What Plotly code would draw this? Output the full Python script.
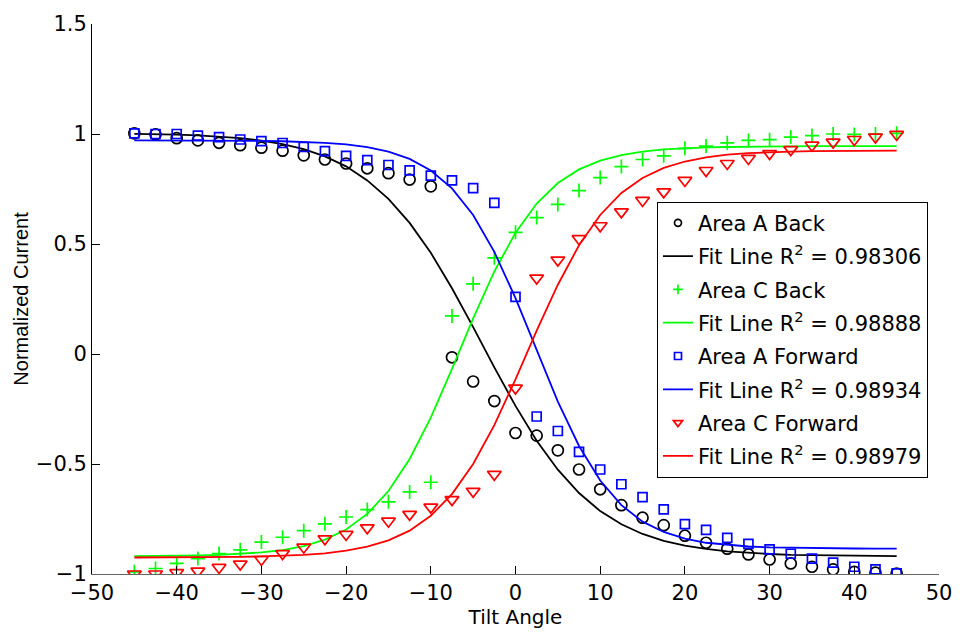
import plotly.graph_objects as go

# Tilt angles (degrees)
tilt = [-45, -42.5, -40, -37.5, -35, -32.5, -30, -27.5, -25, -22.5, -20, -17.5, -15,
        -12.5, -10, -7.5, -5, -2.5, 0, 2.5, 5, 7.5, 10, 12.5, 15, 17.5, 20, 22.5, 25,
        27.5, 30, 32.5, 35, 37.5, 40, 42.5, 45]

# Measured normalized current
area_a_back = [1.003, 0.998, 0.981, 0.971, 0.960, 0.949, 0.938, 0.924, 0.903, 0.884,
               0.866, 0.844, 0.822, 0.793, 0.762, -0.015, -0.125, -0.214, -0.359, -0.371,
               -0.438, -0.525, -0.615, -0.687, -0.744, -0.778, -0.826, -0.858, -0.885,
               -0.911, -0.934, -0.952, -0.967, -0.979, -0.990, -0.994, -0.998]
area_c_back = [-0.99, -0.975, -0.952, -0.930, -0.907, -0.890, -0.855, -0.833, -0.803,
               -0.772, -0.741, -0.707, -0.672, -0.627, -0.583, 0.173, 0.319, 0.437, 0.553,
               0.620, 0.680, 0.743, 0.802, 0.852, 0.884, 0.901, 0.935, 0.945, 0.960, 0.971,
               0.974, 0.986, 0.993, 1.0, 0.998, 1.0, 1.003]
area_a_forward = [1.003, 1.0, 1.0, 0.993, 0.986, 0.975, 0.968, 0.959, 0.941, 0.922, 0.901,
                  0.881, 0.859, 0.835, 0.811, 0.789, 0.754, 0.687, 0.260, -0.284, -0.350,
                  -0.445, -0.525, -0.592, -0.651, -0.706, -0.773, -0.799, -0.836, -0.863,
                  -0.888, -0.908, -0.930, -0.948, -0.967, -0.979, -0.997]
area_c_forward = [-1.0, -1.0, -0.994, -0.987, -0.970, -0.955, -0.934, -0.907, -0.878,
                  -0.840, -0.820, -0.790, -0.760, -0.729, -0.696, -0.662, -0.624, -0.547,
                  -0.155, 0.345, 0.427, 0.524, 0.583, 0.646, 0.698, 0.737, 0.789, 0.834,
                  0.866, 0.889, 0.911, 0.929, 0.949, 0.963, 0.975, 0.986, 0.998]

# Sigmoid fit values evaluated at each tilt angle
fit_a_back = [1.001, 1.0, 0.997, 0.994, 0.988, 0.981, 0.970, 0.954, 0.931, 0.898, 0.853,
              0.789, 0.705, 0.596, 0.460, 0.299, 0.122, -0.061, -0.236, -0.394, -0.526,
              -0.632, -0.714, -0.774, -0.818, -0.849, -0.871, -0.886, -0.897, -0.904,
              -0.909, -0.913, -0.915, -0.917, -0.918, -0.918, -0.919]
fit_c_back = [-0.919, -0.919, -0.918, -0.916, -0.913, -0.909, -0.902, -0.891, -0.873,
              -0.844, -0.798, -0.727, -0.623, -0.477, -0.289, -0.068, 0.162, 0.375, 0.551,
              0.684, 0.777, 0.839, 0.879, 0.904, 0.920, 0.930, 0.936, 0.939, 0.941, 0.943,
              0.944, 0.944, 0.945, 0.945, 0.945, 0.945, 0.945]
fit_a_forward = [0.971, 0.971, 0.971, 0.970, 0.970, 0.970, 0.969, 0.967, 0.964, 0.960,
                 0.953, 0.940, 0.920, 0.887, 0.834, 0.753, 0.632, 0.464, 0.254, 0.017,
                 -0.216, -0.418, -0.575, -0.687, -0.762, -0.809, -0.839, -0.858, -0.868,
                 -0.875, -0.879, -0.881, -0.883, -0.884, -0.884, -0.885, -0.885]
fit_c_forward = [-0.925, -0.925, -0.924, -0.924, -0.923, -0.922, -0.920, -0.918, -0.913,
                 -0.906, -0.894, -0.876, -0.847, -0.803, -0.735, -0.637, -0.500, -0.323,
                 -0.115, 0.106, 0.315, 0.494, 0.632, 0.732, 0.800, 0.846, 0.875, 0.894,
                 0.906, 0.913, 0.918, 0.920, 0.922, 0.923, 0.924, 0.924, 0.924]

r2 = ["0.98306", "0.98888", "0.98934", "0.98979"]

series = [
    ("Area A Back", area_a_back, fit_a_back, "#000000", "circle-open", 11, 7),
    ("Area C Back", area_c_back, fit_c_back, "#00ff00", "cross-thin-open", 10, 7),
    ("Area A Forward", area_a_forward, fit_a_forward, "#0000ff", "square-open", 9, 7),
    ("Area C Forward", area_c_forward, fit_c_forward, "#ff0000", "triangle-down-open", 12, 8),
]

fig = go.Figure()
for i, ((name, meas, fit, color, symbol, size, lsize), rr) in enumerate(zip(series, r2)):
    # measured points on the axes
    fig.add_trace(go.Scatter(
        x=tilt, y=meas, mode="markers", name=name, showlegend=False,
        marker=dict(symbol=symbol, size=size, color=color,
                    line=dict(color=color, width=1.7)),
    ))
    # smaller marker for the legend entry
    fig.add_trace(go.Scatter(
        x=[None], y=[None], mode="markers", name=name, legendgroup=f"m{i}",
        marker=dict(symbol=symbol, size=lsize, color=color,
                    line=dict(color=color, width=1.7)),
    ))
    fig.add_trace(go.Scatter(
        x=tilt, y=fit, mode="lines", name=f"Fit Line R<sup>2</sup> = {rr}",
        legendgroup=f"f{i}",
        line=dict(color=color, width=1.8),
    ))

wide_font = "DejaVu Sans, Verdana, sans-serif"
narrow_font = "Liberation Sans, Arial, Helvetica, sans-serif"

fig.update_layout(
    width=964, height=633,
    margin=dict(l=92, r=20, t=15, b=59),
    paper_bgcolor="white", plot_bgcolor="white",
    font=dict(family=wide_font, size=21, color="black"),
    showlegend=True,
    legend=dict(
        x=0.987, xanchor="right", y=0.677, yanchor="top",
        bgcolor="white", bordercolor="black", borderwidth=1,
        font=dict(family=wide_font, size=21, color="black"),
        traceorder="grouped", tracegroupgap=3, itemwidth=30,
    ),
    xaxis=dict(
        range=[-50, 50], tickvals=[-50, -40, -30, -20, -10, 0, 10, 20, 30, 40, 50],
        showline=True, linecolor="#666666", linewidth=1,
        ticks="inside", ticklen=8, tickcolor="black", tickwidth=1,
        showgrid=False, zeroline=False, mirror=False,
        title=dict(text="Tilt Angle", font=dict(family=wide_font, size=20), standoff=0),
        tickfont=dict(family=wide_font, size=21),
    ),
    yaxis=dict(
        range=[-1, 1.5], tickvals=[-1, -0.5, 0, 0.5, 1, 1.5],
        showline=True, linecolor="black", linewidth=1,
        ticks="inside", ticklen=8, tickcolor="black", tickwidth=1,
        showgrid=False, zeroline=False, mirror=False,
        title=dict(text="Normalized Current", font=dict(family=narrow_font, size=20),
                   standoff=1),
        tickfont=dict(family=wide_font, size=21),
    ),
)

fig.write_html("out.html")
